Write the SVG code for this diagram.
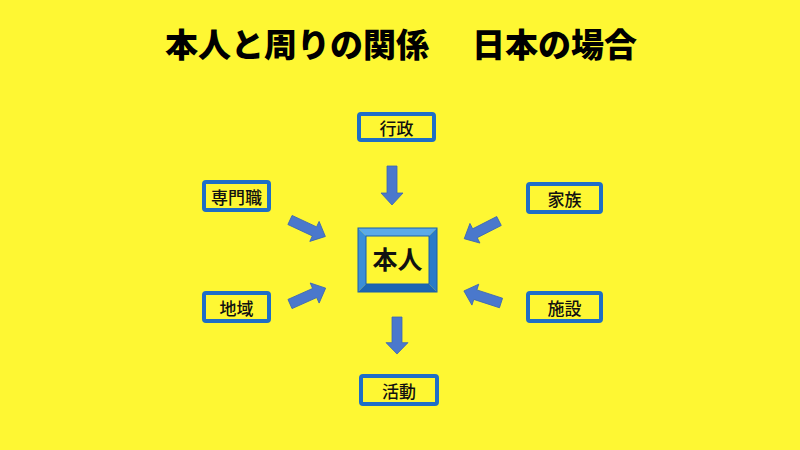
<svg xmlns="http://www.w3.org/2000/svg" xmlns:xlink="http://www.w3.org/1999/xlink" width="800" height="450" viewBox="0 0 800 450">
<style>
.box{fill:#FEF733;stroke:#1E6EC6;stroke-width:4}
.lbl{font-family:"Noto Sans CJK JP","Noto Sans CJK SC",sans-serif;font-size:17px;font-weight:500;fill:#111;text-anchor:middle;dominant-baseline:central}
.title{font-family:"Noto Sans CJK JP","Noto Sans CJK SC",sans-serif;font-size:33px;font-weight:900;fill:#000}
.arr{fill:#4A78CC;stroke:#3A66B4;stroke-width:0.8}
</style>
<defs>
<polygon id="ar" points="0,-5 27,-5 27,-11 39,0 27,11 27,5 0,5"/>
</defs>
<rect width="800" height="450" fill="#FEF733"/>
<text class="title" y="57"><tspan x="165">本人と周りの関係</tspan><tspan x="472">日本の場合</tspan></text>

<g id="honnin">
<polygon points="358,228 437,228 429,236 366,236" fill="#5BAAE8"/>
<polygon points="358,228 366,236 366,284 358,292" fill="#3A8FD8"/>
<polygon points="437,228 437,292 429,284 429,236" fill="#2A7BC8"/>
<polygon points="358,292 366,284 429,284 437,292" fill="#1C66B2"/>
<rect x="358" y="228" width="79" height="64" fill="none" stroke="#1A5FA8" stroke-width="1"/>
<rect x="366" y="236" width="63" height="48" fill="#FEF733" stroke="#1A5FA8" stroke-width="1"/>
<text x="397.5" y="258" class="lbl" style="font-size:25px;font-weight:bold">本人</text>
</g>
<g id="gyosei"><rect class="box" x="359" y="114" width="75" height="26" rx="2"/><text class="lbl" x="396.5" y="127">行政</text></g>
<g id="senmonshoku"><rect class="box" x="204" y="182" width="65" height="28" rx="2"/><text class="lbl" x="236.5" y="196">専門職</text></g>
<g id="kazoku"><rect class="box" x="528" y="184" width="73" height="28" rx="2"/><text class="lbl" x="564.5" y="198">家族</text></g>
<g id="chiiki"><rect class="box" x="204" y="293" width="65" height="28" rx="2"/><text class="lbl" x="236.5" y="307">地域</text></g>
<g id="shisetsu"><rect class="box" x="528" y="293" width="73" height="28" rx="2"/><text class="lbl" x="564.5" y="307">施設</text></g>
<g id="katsudo"><rect class="box" x="361" y="376" width="76" height="28" rx="2"/><text class="lbl" x="399" y="390">活動</text></g>

<g id="connectors">
<use xlink:href="#ar" class="arr" transform="translate(392,166) rotate(90)"/>
<use xlink:href="#ar" class="arr" transform="translate(397,317) rotate(90) scale(0.95,1)"/>
<use xlink:href="#ar" class="arr" transform="translate(290,220) rotate(25)"/>
<use xlink:href="#ar" class="arr" transform="translate(290,304) rotate(-24)"/>
<use xlink:href="#ar" class="arr" transform="translate(499,221) rotate(153)"/>
<use xlink:href="#ar" class="arr" transform="translate(501,303) rotate(198)"/>
</g>
</svg>
